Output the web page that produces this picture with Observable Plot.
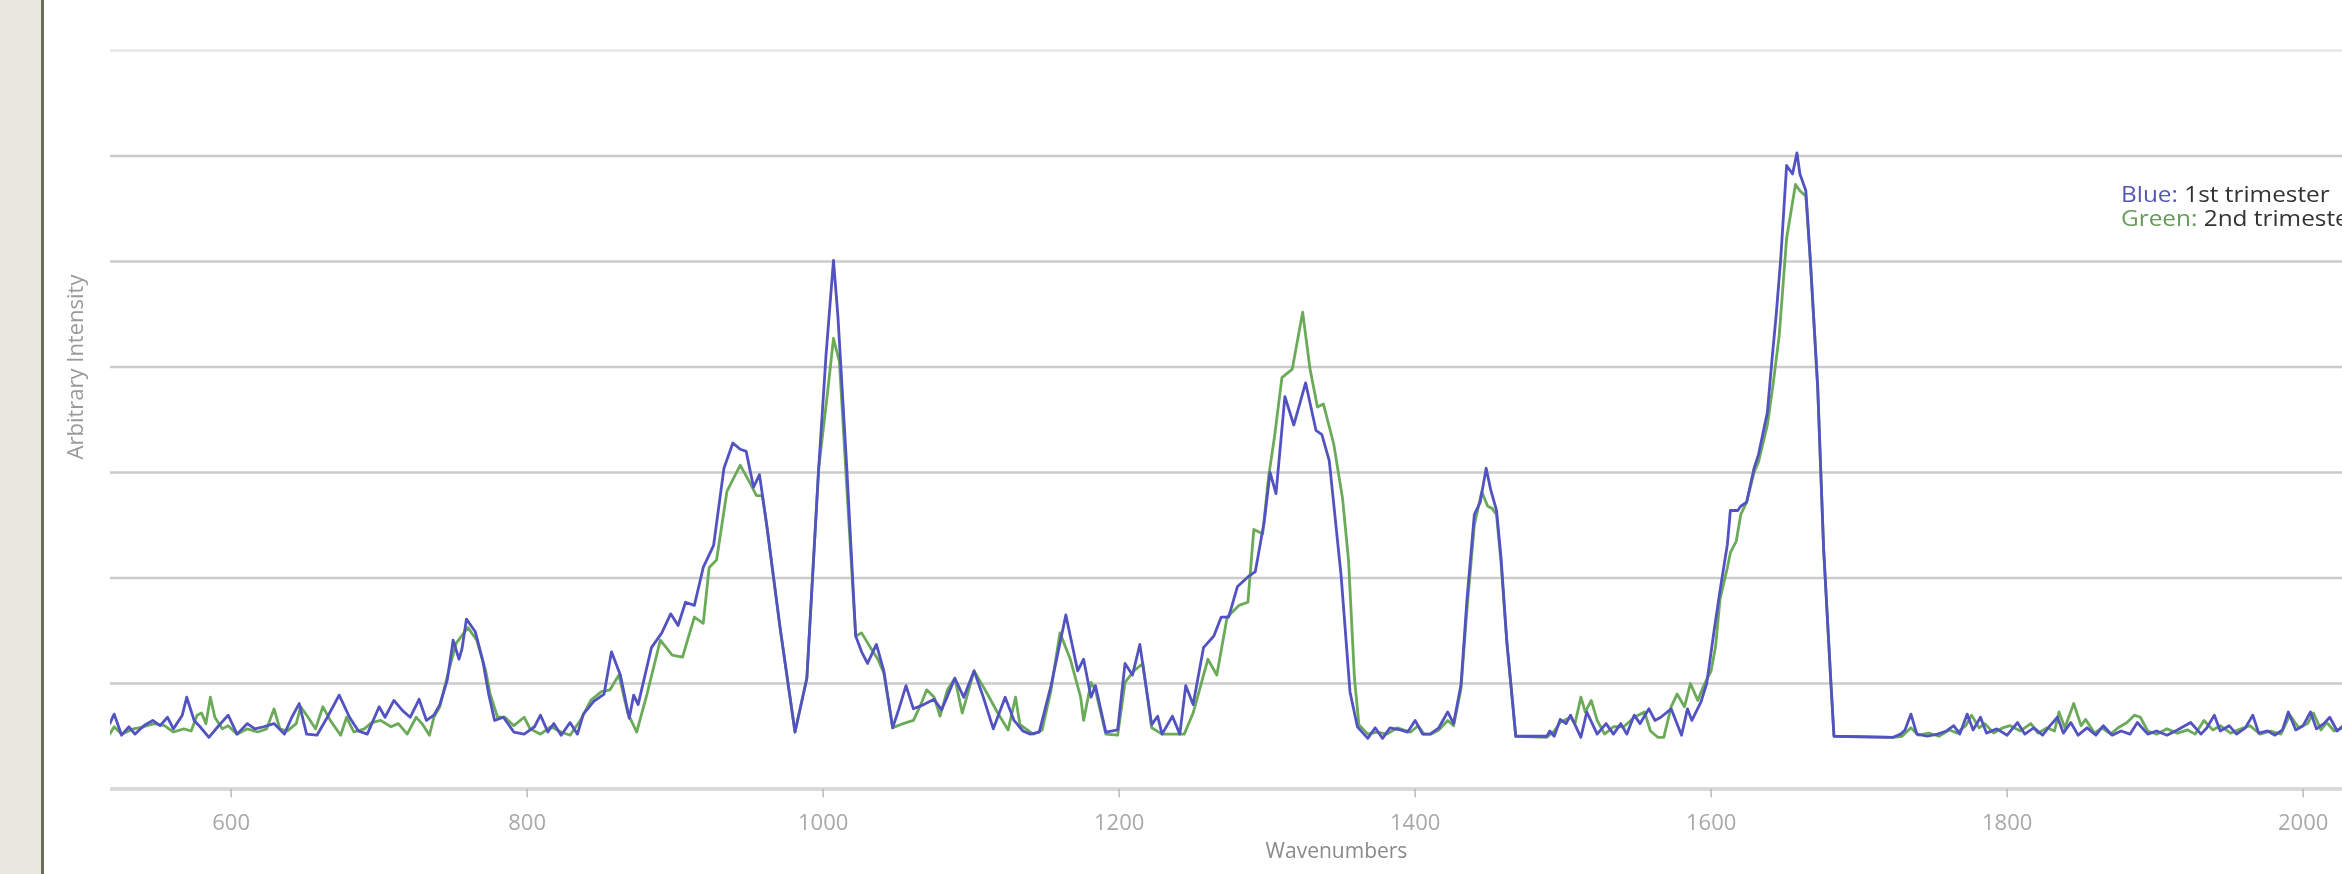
<!DOCTYPE html>
<html>
<head>
<meta charset="utf-8">
<script src="https://cdn.jsdelivr.net/npm/d3@7"></script>
<script src="https://cdn.jsdelivr.net/npm/@observablehq/plot@0.6"></script>
<style>
  html, body { margin: 0; padding: 0; background: #ffffff; }
  #wrap { position: relative; width: 2342px; height: 874px; overflow: hidden; background: #ffffff; }
  #side { position: absolute; left: 0; top: 0; width: 41px; height: 874px; background: #e8e8df; border-right: 3px solid #6c6c5b; }
  #key { position: absolute; left: 2121px; top: 182px; font-family: "Open Sans", sans-serif; font-size: 21px; line-height: 24px;
         color: #333333; white-space: nowrap; transform: scaleX(1.16); transform-origin: left top; }
  #key .b { color: #5656b8; }
  #key .g { color: #679a58; }
</style>
</head>
<body>
<div id="wrap">
  <div id="chart"></div>
  <div id="side"></div>
  <div id="key"></div>
</div>
<script>
// Raman spectra, intensity in gridline units, wavenumber in cm^-1
const blueWave = [518,521,526,531,535,541,547,552,557,561,567,570,575,579,585,591,598,604,611,616,622,629,636,641,646,651,658,665,673,680,686,692,700,704,710,716,721,727,732,737,741,746,750,754,756,759,765,770,774,778,784,791,798,805,809,814,818,823,829,834,838,845,852,857,863,869,872,875,884,891,897,902,907,913,919,926,933,939,944,948,953,957,962,971,981,989,997,1002,1007,1010,1016,1022,1026,1030,1036,1041,1047,1051,1056,1061,1068,1075,1080,1084,1089,1095,1102,1108,1115,1123,1129,1135,1140,1146,1154,1164,1172,1176,1181,1184,1191,1199,1204,1209,1214,1222,1226,1229,1236,1241,1245,1250,1257,1264,1269,1274,1280,1287,1292,1298,1302,1306,1312,1318,1326,1333,1337,1342,1350,1356,1361,1368,1373,1378,1383,1390,1395,1400,1405,1410,1416,1422,1426,1431,1435,1440,1444,1448,1451,1455,1458,1462,1468,1489,1491,1494,1498,1502,1505,1512,1516,1523,1529,1534,1539,1543,1548,1552,1558,1562,1566,1573,1580,1584,1587,1593,1597,1602,1606,1611,1613,1618,1620,1624,1629,1632,1638,1641,1644,1647,1651,1655,1658,1660,1664,1667,1672,1676,1681,1683,1723,1728,1731,1735,1739,1746,1753,1759,1764,1768,1773,1777,1782,1786,1793,1800,1807,1812,1818,1824,1829,1834,1838,1843,1848,1854,1860,1865,1871,1877,1883,1888,1895,1901,1908,1915,1924,1931,1935,1940,1944,1950,1955,1961,1966,1970,1976,1981,1986,1990,1995,2000,2005,2009,2014,2018,2023,2027];
const blueIntensity = [0.62,0.71,0.51,0.59,0.52,0.60,0.65,0.60,0.68,0.57,0.70,0.87,0.65,0.59,0.49,0.59,0.70,0.52,0.62,0.57,0.59,0.62,0.52,0.68,0.81,0.52,0.51,0.68,0.89,0.68,0.55,0.52,0.78,0.68,0.84,0.74,0.68,0.85,0.65,0.70,0.80,1.03,1.41,1.23,1.33,1.61,1.49,1.22,0.90,0.65,0.68,0.54,0.52,0.59,0.70,0.54,0.62,0.51,0.63,0.52,0.71,0.83,0.90,1.30,1.08,0.67,0.89,0.80,1.34,1.48,1.66,1.55,1.77,1.74,2.10,2.31,3.04,3.28,3.22,3.20,2.86,2.98,2.49,1.52,0.54,1.05,3.04,4.12,5.01,4.48,3.04,1.45,1.30,1.19,1.37,1.12,0.58,0.75,0.98,0.76,0.80,0.85,0.75,0.88,1.05,0.87,1.12,0.88,0.57,0.87,0.65,0.55,0.52,0.54,0.98,1.65,1.12,1.23,0.87,0.98,0.54,0.56,1.19,1.08,1.37,0.61,0.69,0.52,0.69,0.52,0.98,0.80,1.34,1.45,1.63,1.63,1.92,2.01,2.06,2.53,3.00,2.80,3.72,3.45,3.85,3.40,3.36,3.11,2.02,0.92,0.59,0.48,0.58,0.48,0.58,0.56,0.54,0.65,0.52,0.52,0.58,0.73,0.62,0.99,1.79,2.60,2.72,3.04,2.84,2.64,2.20,1.39,0.50,0.50,0.55,0.50,0.66,0.62,0.70,0.49,0.73,0.52,0.62,0.52,0.62,0.52,0.70,0.62,0.76,0.65,0.68,0.76,0.51,0.76,0.65,0.82,1.00,1.50,1.88,2.32,2.64,2.64,2.68,2.72,3.04,3.17,3.57,4.05,4.50,5.02,5.91,5.83,6.03,5.83,5.67,5.02,3.81,2.28,0.99,0.50,0.49,0.52,0.56,0.71,0.52,0.50,0.52,0.55,0.60,0.52,0.71,0.56,0.68,0.53,0.57,0.51,0.63,0.52,0.58,0.51,0.60,0.68,0.53,0.63,0.51,0.58,0.51,0.60,0.51,0.55,0.52,0.63,0.52,0.55,0.51,0.56,0.63,0.52,0.58,0.70,0.55,0.60,0.52,0.58,0.70,0.53,0.55,0.51,0.56,0.73,0.56,0.60,0.73,0.57,0.62,0.68,0.55,0.60];

const greenWave = [518,521,526,534,541,548,555,561,568,573,577,580,583,586,589,594,598,604,611,618,624,629,633,638,644,647,652,657,662,667,674,678,683,690,695,701,708,713,719,725,729,734,737,741,747,752,760,766,772,775,780,785,791,798,802,809,816,823,829,836,843,850,856,862,868,874,881,890,898,905,913,919,923,928,935,944,951,955,959,962,971,981,989,997,1003,1007,1011,1016,1022,1026,1032,1037,1041,1047,1054,1061,1066,1070,1075,1079,1084,1089,1094,1102,1111,1118,1125,1130,1133,1142,1148,1154,1160,1167,1174,1176,1181,1184,1191,1199,1204,1210,1216,1222,1229,1236,1244,1250,1260,1266,1273,1281,1287,1291,1297,1301,1305,1310,1317,1324,1329,1334,1338,1345,1351,1355,1359,1362,1368,1374,1381,1388,1392,1397,1402,1406,1411,1416,1422,1426,1431,1435,1440,1445,1449,1452,1455,1458,1462,1468,1489,1494,1498,1505,1508,1512,1515,1519,1523,1528,1534,1541,1548,1555,1559,1564,1568,1573,1577,1582,1586,1591,1595,1600,1603,1606,1611,1613,1617,1620,1624,1629,1632,1638,1642,1646,1651,1657,1660,1664,1667,1672,1676,1681,1683,1723,1729,1735,1740,1747,1754,1761,1766,1772,1776,1781,1785,1791,1797,1802,1809,1816,1821,1827,1832,1835,1839,1845,1850,1853,1859,1864,1870,1875,1881,1886,1890,1895,1901,1908,1915,1922,1927,1933,1939,1944,1951,1958,1964,1971,1978,1985,1991,1997,2003,2007,2012,2016,2021,2027];
const greenIntensity = [0.52,0.59,0.52,0.57,0.59,0.62,0.60,0.54,0.57,0.55,0.70,0.72,0.62,0.87,0.68,0.57,0.60,0.52,0.57,0.54,0.57,0.76,0.57,0.55,0.62,0.78,0.68,0.57,0.78,0.65,0.51,0.68,0.54,0.57,0.63,0.65,0.59,0.62,0.52,0.68,0.62,0.51,0.68,0.78,1.12,1.38,1.53,1.41,1.12,0.90,0.68,0.68,0.60,0.68,0.57,0.52,0.59,0.54,0.51,0.65,0.84,0.92,0.94,1.08,0.72,0.54,0.90,1.41,1.27,1.25,1.63,1.57,2.10,2.17,2.82,3.07,2.89,2.78,2.78,2.49,1.52,0.54,1.05,3.04,3.76,4.27,4.05,2.86,1.45,1.48,1.34,1.23,1.10,0.58,0.62,0.65,0.80,0.94,0.87,0.69,0.94,1.05,0.72,1.12,0.90,0.72,0.56,0.87,0.61,0.52,0.56,0.94,1.48,1.23,0.87,0.65,1.01,0.94,0.52,0.51,1.01,1.12,1.19,0.58,0.52,0.52,0.52,0.72,1.23,1.08,1.63,1.74,1.77,2.46,2.42,2.96,3.34,3.90,3.98,4.52,3.98,3.62,3.65,3.27,2.75,2.17,1.05,0.61,0.52,0.54,0.52,0.58,0.56,0.54,0.60,0.52,0.52,0.56,0.65,0.60,0.95,1.70,2.50,2.82,2.68,2.66,2.60,2.15,1.39,0.50,0.49,0.55,0.63,0.68,0.62,0.87,0.73,0.84,0.65,0.52,0.59,0.59,0.68,0.73,0.55,0.49,0.49,0.78,0.90,0.78,1.00,0.84,0.98,1.12,1.35,1.80,2.10,2.24,2.35,2.60,2.72,3.00,3.10,3.45,3.85,4.30,5.22,5.73,5.67,5.62,5.02,3.81,2.28,0.99,0.50,0.49,0.50,0.58,0.51,0.53,0.50,0.56,0.53,0.60,0.70,0.58,0.62,0.53,0.58,0.60,0.55,0.62,0.53,0.58,0.55,0.73,0.58,0.81,0.60,0.66,0.53,0.58,0.52,0.58,0.63,0.70,0.68,0.55,0.52,0.57,0.53,0.56,0.52,0.65,0.56,0.60,0.53,0.57,0.60,0.52,0.55,0.52,0.70,0.58,0.62,0.72,0.56,0.63,0.55,0.58];

const xTicks = [600, 800, 1000, 1200, 1400, 1600, 1800, 2000];
const gridLevels = [1, 2, 3, 4, 5, 6];
const topLevel = [7];
const xTitle = "Wavenumbers";
const yTitle = "Arbitrary Intensity";
const keyEntries = [
  {name: "Blue", cls: "b", label: "1st trimester"},
  {name: "Green", cls: "g", label: "2nd trimester"}
];

const chart = Plot.plot({
  width: 2342,
  height: 874,
  marginLeft: 110,
  marginRight: 0,
  marginTop: 50,
  marginBottom: 85.5,
  style: {background: "transparent", fontFamily: "'Open Sans', sans-serif"},
  x: {domain: [518.5, 2026.6]},
  y: {domain: [0, 7], axis: null},
  marks: [
    Plot.ruleY(topLevel, {stroke: "#e6e6e6", strokeWidth: 2.5}),
    Plot.ruleY(gridLevels, {stroke: "#cbcbcb", strokeWidth: 2.5}),
    Plot.ruleY([0], {stroke: "#dadada", strokeWidth: 4}),
    Plot.axisX({
      ticks: xTicks,
      tickFormat: d => String(d),
      tickSize: 9,
      tickPadding: 16.5,
      stroke: "#bdbdbd",
      strokeWidth: 1.5,
      fill: "#a8a8a8",
      fontSize: 22,
      label: null
    }),
    Plot.line(greenIntensity, {
      x: greenWave, y: greenIntensity,
      stroke: "#6aaa58", strokeWidth: 2.8, mixBlendMode: "multiply", clip: true
    }),
    Plot.line(blueIntensity, {
      x: blueWave, y: blueIntensity,
      stroke: "#5252c2", strokeWidth: 2.8, mixBlendMode: "multiply", clip: true
    }),
    Plot.text([xTitle], {
      frameAnchor: "bottom", text: d => d, dx: 110, dy: 69,
      fontSize: 21, fill: "#8a8a8a"
    }),
    Plot.text([yTitle], {
      frameAnchor: "left", textAnchor: "middle", text: d => d, rotate: -90, dx: -35, dy: -52.75,
      fontSize: 22, fill: "#9a9a9a"
    })
  ]
});
document.getElementById("chart").appendChild(chart);

// Key text in the upper right of the plot area
const key = d3.select("#key");
keyEntries.forEach(e => {
  const row = key.append("div");
  row.append("span").attr("class", e.cls).text(e.name + ":");
  row.append("span").text(" " + e.label);
});
</script>
</body>
</html>
